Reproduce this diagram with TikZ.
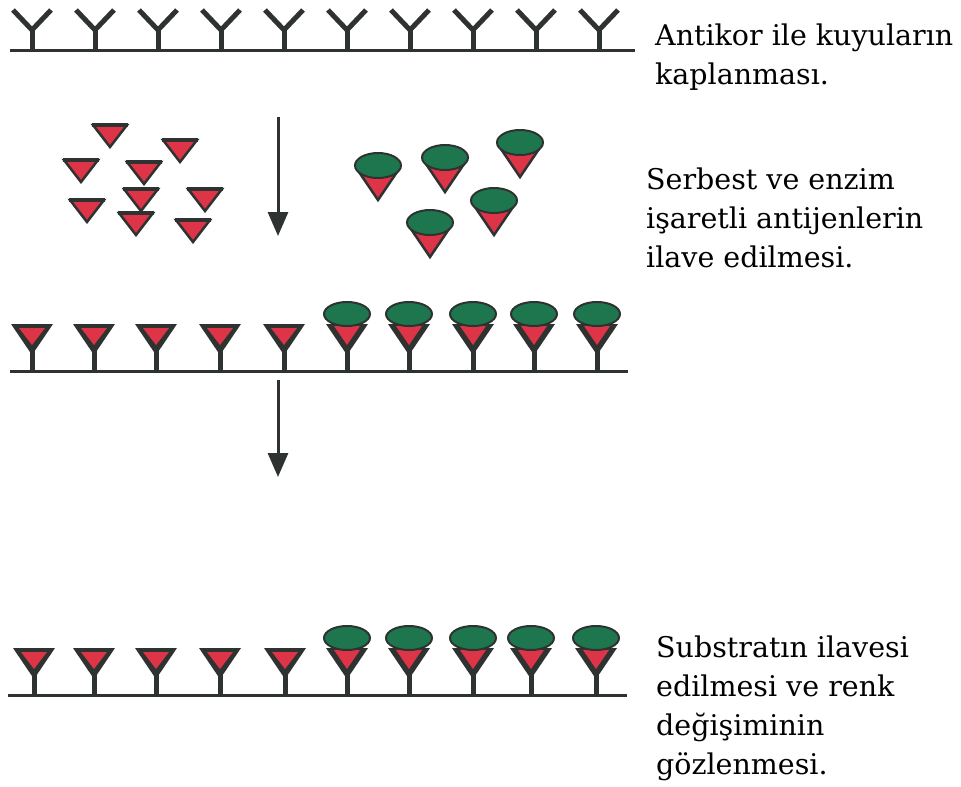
\documentclass[tikz,border=0pt]{standalone}
\usepackage{fontspec}
\setmainfont{DejaVu Serif}
\usetikzlibrary{arrows.meta}

\definecolor{ink}{RGB}{46,50,48}
\definecolor{agred}{RGB}{222,52,72}
\definecolor{enzgreen}{RGB}{30,118,78}

\tikzset{
  wellline/.style={ink, line width=3pt},
  abline/.style={ink, line width=5pt},
  agshape/.style={fill=agred, draw=ink, line width=2.5pt, line join=miter},
  capshape/.style={fill=enzgreen, draw=ink, line width=2pt},
  flow/.style={ink, line width=3pt, -{Triangle[width=20pt,length=24pt]}},
  % multi-line text: the base anchor sits on the last line
  steptext/.style={font=\fontsize{28.5}{39}\selectfont, align=left,
                   anchor=base west, inner sep=0pt, text=black},
  % free Y-shaped antibody standing on the well surface
  pics/antibody/.style={code={
    \draw[abline] (0,0) -- (0,-20);
    \draw[abline, line join=miter] (-19,-40) -- (0,-20) -- (19,-40);
  }},
  % free antigen, origin at the middle of its top edge
  pics/antigen/.style={code={
    \filldraw[agshape] (-17,0) -- (17,0) -- (0,22) -- cycle;
    \draw[ink, line width=3.5pt] (-18,0) -- (18,0);
  }},
  % enzyme-labelled antigen, origin at the top of the enzyme cap
  pics/labantigen/.style={code={
    \filldraw[agshape] (-19,19) -- (19,19) -- (0,47) -- cycle;
    \filldraw[capshape] (0,12.5) ellipse [x radius=23pt, y radius=12.5pt];
  }},
  % antibody holding an antigen
  pics/boundab/.style={code={
    \draw[abline] (0,0) -- (0,-22);
    \fill[ink] (-21,-47) -- (21,-47) -- (0,-16) -- cycle;
    \fill[agred] (-13,-43) -- (13,-43) -- (0,-26) -- cycle;
  }},
  % antibody holding an enzyme-labelled antigen
  pics/boundlab/.style={code={
    \draw[abline] (0,0) -- (0,-22);
    \fill[ink] (-21,-47) -- (21,-47) -- (0,-16) -- cycle;
    \fill[agred] (-13,-45) -- (13,-45) -- (0,-26) -- cycle;
    \filldraw[capshape] (0,-57) ellipse [x radius=23pt, y radius=12pt];
  }},
}

\begin{document}
\begin{tikzpicture}[x=1pt, y=-1pt]
  \fill[white] (0,0) rectangle (961,787);
  \useasboundingbox (0,0) rectangle (961,787);

  % step 1: coated wells
  \coordinate (w1a) at (10,50);
  \coordinate (w1b) at (635,50);
  \draw[wellline] (w1a) -- (w1b);
  \foreach \x in {32,95,158,221,284,347,410,473,536,599}
    \pic at (\x,50) {antibody};

  % step 2: free and labelled antigens
  \foreach \x/\y in {110/125,180/140,81/160,144/162,141/189,205/189,87/200,136/213,193/220}
    \pic at (\x,\y) {antigen};
  \foreach \x/\y in {378/153,445/145,520/130,494/188,430/210}
    \pic at (\x,\y) {labantigen};

  \coordinate (a1s) at (278,117);
  \coordinate (a1e) at (278,236);
  \draw[flow] (a1s) -- (a1e);

  % step 3: competition on the well surface
  \coordinate (w2a) at (10,371);
  \coordinate (w2b) at (628,371);
  \draw[wellline] (w2a) -- (w2b);
  \foreach \x in {32,94,156,220,284}
    \pic at (\x,371) {boundab};
  \foreach \x in {347,409,473,534,597}
    \pic at (\x,371) {boundlab};

  \coordinate (a2s) at (278,380);
  \coordinate (a2e) at (278,477);
  \draw[flow] (a2s) -- (a2e);

  % step 4: substrate and colour change
  \coordinate (w3a) at (8,695);
  \coordinate (w3b) at (627,695);
  \draw[wellline] (w3a) -- (w3b);
  \foreach \x in {34,94,156,220,285}
    \pic at (\x,695) {boundab};
  \foreach \x in {347,409,473,531,596}
    \pic at (\x,695) {boundlab};

  % step descriptions (positions give the baseline of the last line)
  \node[steptext] (t1) at (655,84) {Antikor ile kuyuların\\kaplanması.};
  \node[steptext] (t2) at (646,267) {Serbest ve enzim\\işaretli antijenlerin\\ilave edilmesi.};
  \node[steptext] (t3) at (656,774) {Substratın ilavesi\\edilmesi ve renk\\değişiminin\\gözlenmesi.};
\end{tikzpicture}
\end{document}
